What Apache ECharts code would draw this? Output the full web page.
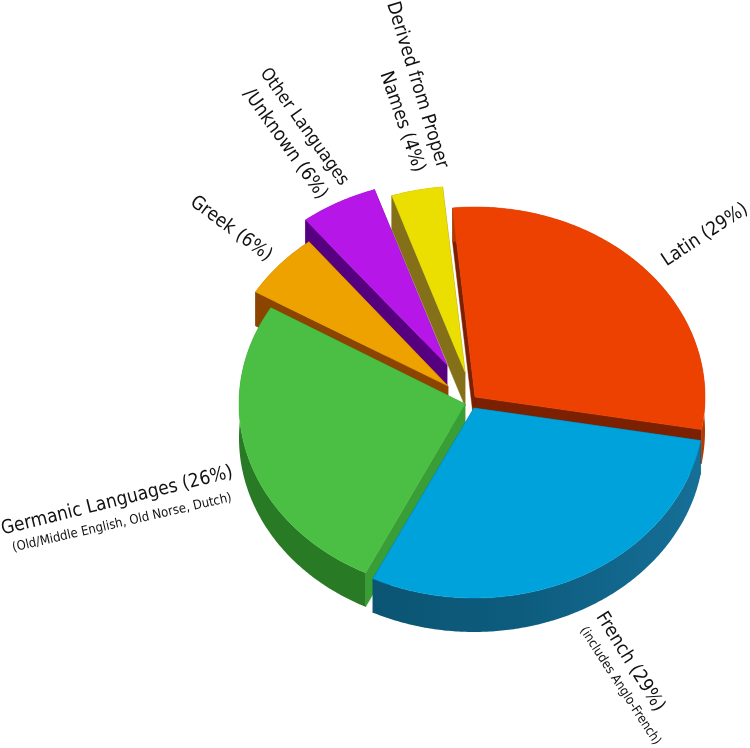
<!DOCTYPE html>
<html><head><meta charset="utf-8">
<style>html,body{margin:0;padding:0;background:#fff}#c{width:750px;height:748px}</style>
<script src="https://cdn.jsdelivr.net/npm/echarts@6/dist/echarts.min.js"></script></head>
<body><div id="c"></div>
<script>
const categories = ['Latin','French','Germanic Languages','Greek','Other Languages /Unknown','Derived from Proper Names'];
const shares = [29.3,29.5,26.3,5.8,5.5,3.6];
const labelLines = [
  ['Latin (29%)'],
  ['French (29%)','(includes Anglo-French)'],
  ['Germanic Languages (26%)','(Old/Middle English, Old Norse, Dutch)'],
  ['Greek (6%)'],
  ['Other Languages','/Unknown (6%)'],
  ['Derived from Proper','Names (4%)']
];
const topColors  = ['#EC4100','#00A2DC','#4BBE44','#EDA200','#B716E8','#EADF00'];
const sideColors = ['#7B2000','#0C5674','#399E35','#8B4500','#57007F','#85701A'];
const rimColors  = ['#B53A00',null,'#287A25','#8B4500','#57007F','#85701A'];
const apexes = [[475,397],[474,408],[465,404],[448,386],[447,365],[465,372]];
const radii  = [[230,190],[230,190],[226,188],[224,184],[228,185],[230,186]];
const drawOrder = [3,5,4,2,1,0]; // paint priority per slice: back slices first
const DEPTH=34, START=264.4;

const startAngles=[]; let acc=START;
shares.forEach(s=>{startAngles.push(acc); acc+=s*3.6;});

function renderItem(params,api){
  const i=params.dataIndex, share=api.value(0);
  const a0=startAngles[i], a1=a0+share*3.6;
  const [cx,cy]=apexes[i], [RX,RY]=radii[i];
  const arc=[];
  const n=Math.max(12,Math.ceil(share*6));
  for(let k=0;k<=n;k++){
    const t=(a0+(a1-a0)*k/n)*Math.PI/180;
    arc.push([cx+RX*Math.cos(t),cy+RY*Math.sin(t)]);
  }
  const down=p=>[p[0],p[1]+DEPTH];
  const z=drawOrder[i];
  const poly=(points,fill,stroke)=>({type:'polygon',shape:{points},style:{fill,stroke:stroke||fill,lineWidth:.5}});
  const first=arc[0], last=arc[arc.length-1], apex=[cx,cy];
  const rim = rimColors[i] || new echarts.graphic.LinearGradient(0,0,1,0,[
    {offset:0,color:'#0B5573'},{offset:.45,color:'#0D5C7E'},{offset:1,color:'#166F97'}]);
  return {type:'group',children:[
    poly([apex,first,down(first),down(apex)],sideColors[i]),
    poly([apex,last,down(last),down(apex)],sideColors[i]),
    poly(arc.concat(arc.slice().reverse().map(down)),rim,'rgba(0,0,0,0)'),
    poly([apex].concat(arc),topColors[i])
  ].map(c=>Object.assign(c,{z2:z*10}))};
}

const font='"DejaVu Sans Condensed"';
const labelPlacement=[
  [[705,235,33.5,19]],
  [[630,662,-58,19],[620,686,-57,13]],
  [[117,501,14,19],[122,523,13,13]],
  [[231,229,-36.5,19]],
  [[304,127,-54.5,18],[285,144,-54.5,19]],
  [[417,85,-73,19],[402,122,-71,19]]
];
const textEls=[];
labelLines.forEach((lines,i)=>lines.forEach((t,j)=>{
  const [x,y,deg,size]=labelPlacement[i][j];
  textEls.push({type:'text',x,y,rotation:deg*Math.PI/180,z:10,
    style:{text:t,fill:'#111',font:size+'px '+font,textAlign:'center',textVerticalAlign:'middle'}});
}));

const chart=echarts.init(document.getElementById('c'),null,{renderer:'canvas'});
chart.setOption({
  animation:false,
  backgroundColor:'#fff',
  series:[{type:'custom',coordinateSystem:'none',renderItem,silent:true,clip:false,
    data:shares.map((s,i)=>({name:categories[i],value:[s]}))}],
  graphic:{elements:textEls}
});
</script></body></html>
